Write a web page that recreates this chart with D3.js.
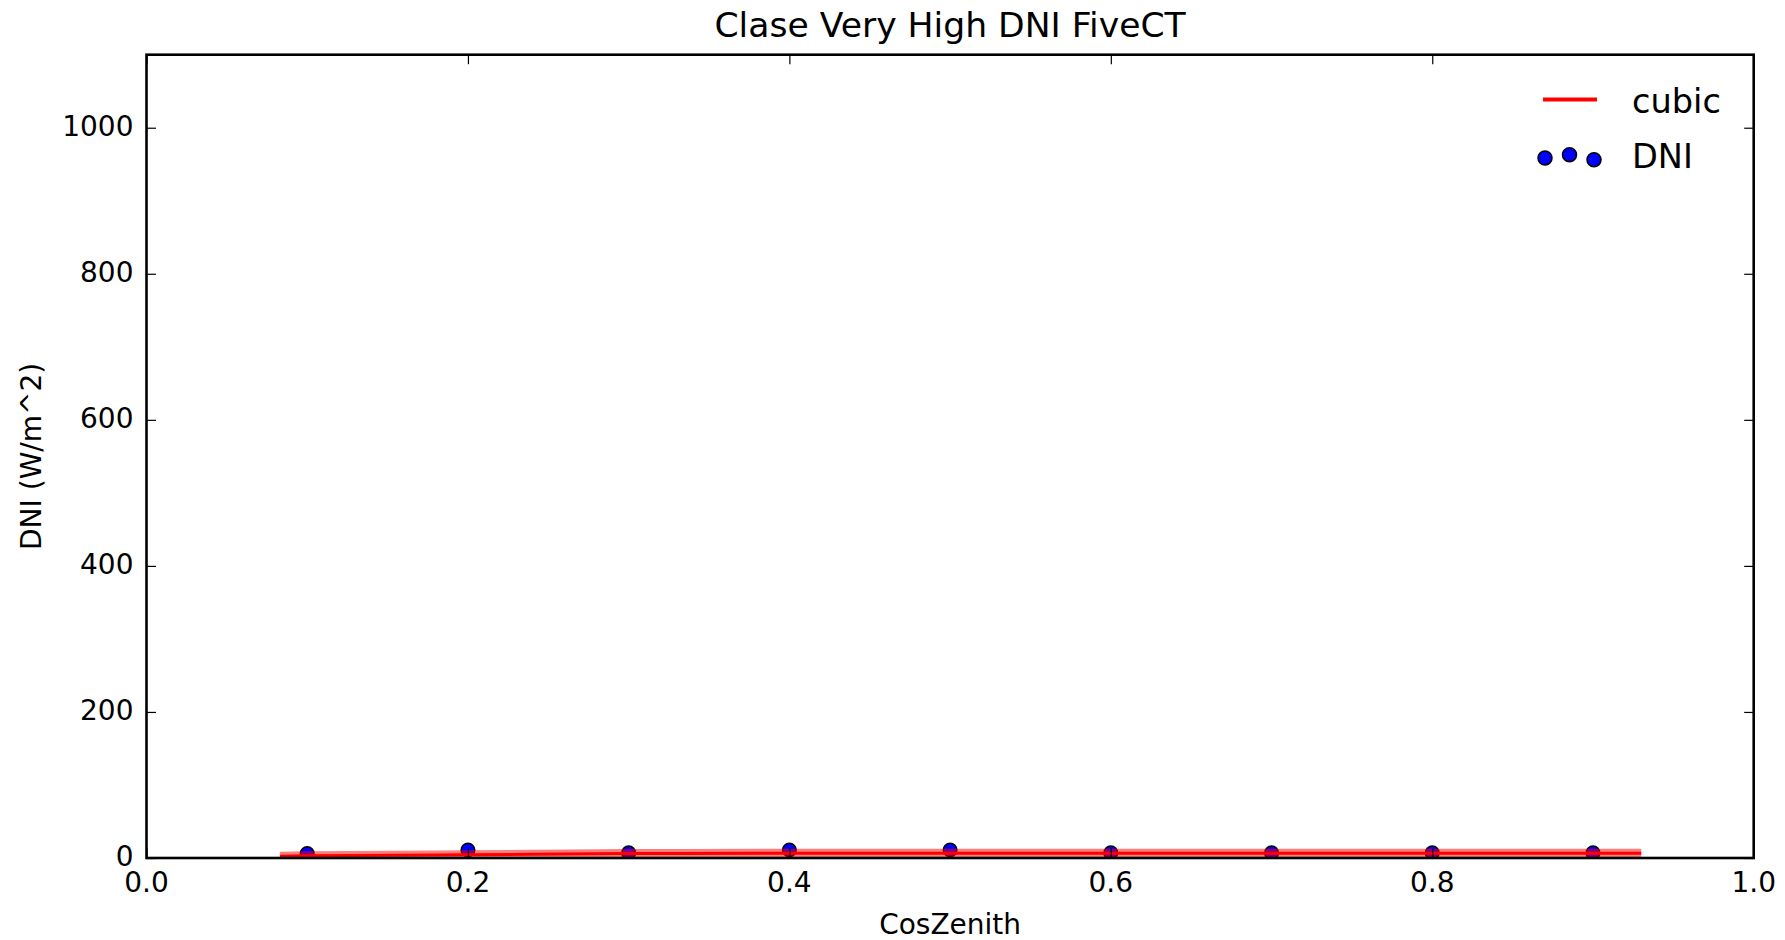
<!DOCTYPE html>
<html>
<head>
<meta charset="utf-8">
<script src="https://cdn.jsdelivr.net/npm/d3@7/dist/d3.min.js"></script>
<style>
  html, body { margin: 0; padding: 0; background: #ffffff; }
  svg { display: block; }
  text { font-family: "DejaVu Sans", sans-serif; fill: #000; }
</style>
</head>
<body>
<svg id="chart" width="1785" height="940"></svg>
<script>
// ---- data ----
const titleText = "Clase Very High DNI FiveCT";
const xLabelText = "CosZenith";
const yLabelText = "DNI (W/m^2)";
const xTicks = [0.0, 0.2, 0.4, 0.6, 0.8, 1.0];
const xTickLabels = ["0.0", "0.2", "0.4", "0.6", "0.8", "1.0"];
const yTicks = [0, 200, 400, 600, 800, 1000];
const yTickLabels = ["0", "200", "400", "600", "800", "1000"];
const cosZenith = [0.1, 0.2, 0.3, 0.4, 0.5, 0.6, 0.7, 0.8, 0.9];
const dniValues = [6, 11, 7, 11, 11, 7, 7, 7, 7];
const cubicX = [0.083, 0.1, 0.2, 0.3, 0.4, 0.5, 0.6, 0.7, 0.8, 0.93];
const cubicY = [2.5, 3, 4.5, 6, 6.5, 6.5, 6.5, 6.5, 6.5, 6.5];
const legendLabels = ["cubic", "DNI"];

(function () {
// ---- layout ----
const pLeft = 146.5, pRight = 1753.7, pTop = 54.7, pBottom = 858;
const svg = d3.select("#chart");

const x = d3.scaleLinear().domain([0, 1]).range([pLeft, pRight]);
const y = d3.scaleLinear().domain([0, 1100]).range([pBottom, pTop]);

const clipId = "plotclip";
svg.append("defs").append("clipPath").attr("id", clipId)
  .append("rect").attr("x", pLeft).attr("y", pTop)
  .attr("width", pRight - pLeft).attr("height", pBottom - pTop);

const plot = svg.append("g").attr("clip-path", `url(#${clipId})`);

// scatter points (drawn first, below line)
plot.selectAll("circle.pt").data(cosZenith.map((c, i) => [c, dniValues[i]]))
  .enter().append("circle").attr("class", "pt")
  .attr("cx", d => x(d[0])).attr("cy", d => y(d[1]))
  .attr("r", 6.8)
  .attr("fill", "#0000ff").attr("stroke", "#000").attr("stroke-width", 1.5);

// cubic line
const lineGen = d3.line().x(d => x(d[0])).y(d => y(d[1])).curve(d3.curveMonotoneX);
const cubicData = cubicX.map((c, i) => [c, cubicY[i]]);
plot.append("path").datum(cubicData).attr("d", lineGen)
  .attr("fill", "none").attr("stroke", "#ff0000").attr("stroke-width", 9)
  .attr("stroke-opacity", 0.5);
plot.append("path").datum(cubicData).attr("d", lineGen)
  .attr("fill", "none").attr("stroke", "#ff0000").attr("stroke-width", 3);

// axes ticks (inward on all sides)
const tickLen = 9.5;
const axB = d3.axisTop(x).tickValues(xTicks).tickSize(tickLen).tickFormat("");
const axT = d3.axisBottom(x).tickValues(xTicks).tickSize(tickLen).tickFormat("");
const axL = d3.axisRight(y).tickValues(yTicks).tickSize(tickLen).tickFormat("");
const axR = d3.axisLeft(y).tickValues(yTicks).tickSize(tickLen).tickFormat("");
function styleAxis(g) {
  g.select(".domain").remove();
  g.selectAll(".tick line").attr("stroke", "#000").attr("stroke-width", 1.2);
}
svg.append("g").attr("transform", `translate(0,${pBottom})`).call(axB).call(styleAxis);
svg.append("g").attr("transform", `translate(0,${pTop})`).call(axT).call(styleAxis);
svg.append("g").attr("transform", `translate(${pLeft},0)`).call(axL).call(styleAxis);
svg.append("g").attr("transform", `translate(${pRight},0)`).call(axR).call(styleAxis);

// tick labels
svg.append("g").selectAll("text").data(xTicks).enter().append("text")
  .attr("x", d => x(d)).attr("y", 892)
  .attr("text-anchor", "middle").attr("font-size", 28)
  .text((d, i) => xTickLabels[i]);
svg.append("g").selectAll("text").data(yTicks).enter().append("text")
  .attr("x", pLeft - 13).attr("y", d => y(d)).attr("dy", "0.3em")
  .attr("text-anchor", "end").attr("font-size", 28)
  .text((d, i) => yTickLabels[i]);

// frame (spines on top)
svg.append("rect").attr("x", pLeft).attr("y", pTop)
  .attr("width", pRight - pLeft).attr("height", pBottom - pTop)
  .attr("fill", "none").attr("stroke", "#000").attr("stroke-width", 2.6);

// title and labels
svg.append("text").attr("x", (pLeft + pRight) / 2).attr("y", 37)
  .attr("text-anchor", "middle").attr("font-size", 34.6).text(titleText);
svg.append("text").attr("x", (pLeft + pRight) / 2).attr("y", 934)
  .attr("text-anchor", "middle").attr("font-size", 28).text(xLabelText);
svg.append("text")
  .attr("transform", `translate(41,${(pTop + pBottom) / 2}) rotate(-90)`)
  .attr("text-anchor", "middle").attr("font-size", 28).text(yLabelText);

// legend
const lg = svg.append("g");
lg.append("line").attr("x1", 1543).attr("x2", 1597).attr("y1", 99.5).attr("y2", 99.5)
  .attr("stroke", "#ff0000").attr("stroke-width", 4);
lg.append("text").attr("x", 1632).attr("y", 113).attr("font-size", 33.6).text(legendLabels[0]);
const legendDotOffsets = [0.375, 0.5, 0.3125];
const legendDotX = d3.scaleLinear().domain([0, 2]).range([1545, 1594]);
const legendDotY = d3.scaleLinear().domain([0, 1]).range([168, 141.3]);
lg.selectAll("circle").data(legendDotOffsets).enter().append("circle")
  .attr("cx", (d, i) => legendDotX(i)).attr("cy", d => legendDotY(d))
  .attr("r", 7).attr("fill", "#0000ff").attr("stroke", "#000").attr("stroke-width", 1.5);
lg.append("text").attr("x", 1632).attr("y", 168).attr("font-size", 33.6).text(legendLabels[1]);
})();
</script>
</body>
</html>
